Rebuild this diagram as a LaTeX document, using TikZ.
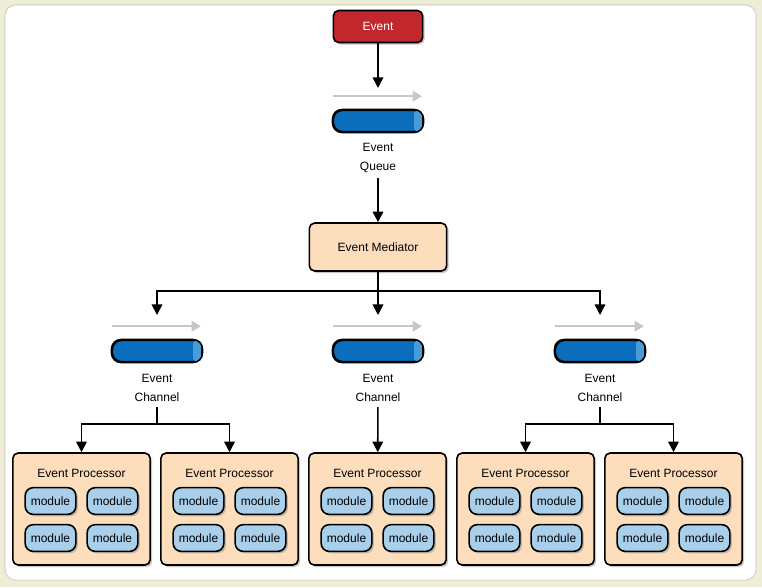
\documentclass[tikz,border=0pt]{standalone}
\usepackage{fontspec}
\setmainfont{Liberation Sans}
\usetikzlibrary{shapes, arrows.meta, positioning, shadows}
\definecolor{evred}{HTML}{C1272D}
\definecolor{qblue}{HTML}{0A6EBD}
\definecolor{qlight}{HTML}{4A9CD8}
\definecolor{peach}{HTML}{FCDDBC}
\definecolor{modblue}{HTML}{A9CFEA}
\definecolor{frame}{HTML}{EEEDD8}
\tikzstyle{block} = [draw, line width=1.2pt, rounded corners=4pt, drop shadow={shadow xshift=1.5pt, shadow yshift=-1.5pt, fill=black!45}]
\tikzstyle{proc} = [block, fill=peach, minimum width=103pt, minimum height=84pt]
\tikzstyle{module} = [block, fill=modblue, rounded corners=6pt, minimum width=38pt, minimum height=20pt, inner sep=0pt, font=\small]
\tikzstyle{pipe} = [draw, line width=1.2pt, fill=qblue, rounded corners=7pt, minimum width=67pt, minimum height=16pt, inner sep=0pt]
\tikzstyle{lbl} = [align=center, font=\small\linespread{1.35}\selectfont]
\tikzstyle{flow} = [draw=black!22, line width=1.6pt, -{Triangle[length=7pt,width=8pt]}]
\tikzstyle{link} = [line width=1.2pt, -{Triangle[length=8pt,width=8pt]}]
\newcommand{\channel}[3]{%
  \node[pipe] (#1) at (#2,351) {};
  \fill[qlight, rounded corners=2pt] ([xshift=-7pt,yshift=-1pt]#1.north east) rectangle ([xshift=-1pt,yshift=1pt]#1.south east);
  \draw[line width=1.2pt, rounded corners=7pt] (#1.north west) rectangle (#1.south east);
  \draw[flow] ([yshift=10pt]#1.north west) -- ++(67pt,0);
  \node[lbl] (#3) at (#2,388) {Event\\Channel};}

\begin{document}
\begin{tikzpicture}[x=0.75pt, y=-0.75pt, font=\small]
  \fill[frame] (0,0) rectangle (762,587);
  \fill[white, rounded corners=8pt] (5,5) rectangle (756,580);
  \draw[frame!80!black, rounded corners=8pt] (5,5) rectangle (756,580);

  \node[block, fill=evred, text=white, minimum width=67pt, minimum height=24pt] (event) at (378,26.5) {Event};
  \node[pipe] (queue) at (378,121) {};
  \fill[qlight, rounded corners=2pt] ([xshift=-7pt,yshift=-1pt]queue.north east) rectangle ([xshift=-1pt,yshift=1pt]queue.south east);
  \draw[line width=1.2pt, rounded corners=7pt] (queue.north west) rectangle (queue.south east);
  \draw[flow] ([yshift=10pt]queue.north west) -- ++(67pt,0);
  \node[lbl] (qlabel) at (378,158) {Event\\Queue};
  \node[block, fill=peach, minimum width=103pt, minimum height=36pt] (mediator) at (378,247) {Event Mediator};

  \channel{chA}{157}{labA}
  \channel{chB}{378}{labB}
  \channel{chC}{600}{labC}

  % processors with their modules
  \foreach \i/\x in {1/81.5, 2/229.5, 3/377.5, 4/525.5, 5/673.5} {
    \node[proc] (p\i) at (\x,509) {};
    \node (t\i) at (\x,473) {Event Processor};
    \foreach \dx/\dy [count=\m] in {-31/501, 31/501, -31/538, 31/538}
      \node[module] (p\i m\m) at (\x+\dx,\dy) {module};
  }

  \draw[link] (event) -- (queue.north |- 0,88);
  \draw[link] (qlabel) -- (mediator);
  \coordinate (split) at (378,291);
  \draw[line width=1.2pt] (mediator) -- (split);
  \draw[link] (split) -| (157,315);
  \draw[link] (split) -| (600,315);
  \draw[link] (split) -- (378,315);

  \draw[line width=1.2pt] (labA) -- (157,424) coordinate (splitA);
  \draw[link] (splitA) -| (p1);
  \draw[link] (splitA) -| (p2);
  \draw[link] (labB) -- (p3);
  \draw[line width=1.2pt] (labC) -- (600,424) coordinate (splitC);
  \draw[link] (splitC) -| (p4);
  \draw[link] (splitC) -| (p5);
\end{tikzpicture}
\end{document}
